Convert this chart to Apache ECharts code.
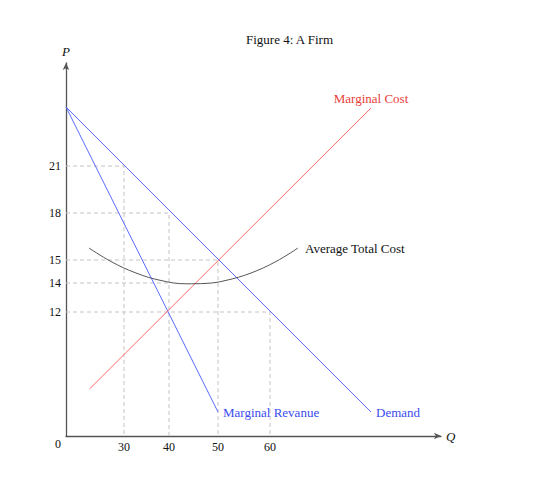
<!DOCTYPE html>
<html>
<head>
<meta charset="utf-8">
<script src="https://cdn.jsdelivr.net/npm/echarts@6/dist/echarts.min.js"></script>
<style>
  html, body { margin: 0; padding: 0; background: #fff; }
  #firm { width: 560px; height: 489px; }
</style>
</head>
<body>
<div id="firm"></div>
<script>
// drawing units: 1 unit = 1 px of the original figure, origin at the axes corner
var qTicks = [58, 103, 152, 204];
var qLabels = ['30', '40', '50', '60'];
var pTicks = [270, 223, 176, 153, 124];
var pLabels = ['21', '18', '15', '14', '12'];

var demand = [[0, 329], [305, 24]];
var marginalRevenue = [[0, 329], [152, 24]];
var marginalCost = [[23.5, 47], [305, 328]];
var averageTotalCost = [[23, 188], [45, 174.5], [70, 163], [95, 155.5], [120, 152.2],
                        [140, 152.6], [160, 155.6], [185, 163], [210, 174.5], [232, 188]];

// dashed guide lines (P level -> curve -> down to Q)
var guide21 = [[0, 270], [58, 270], [58, 0]];
var guide18 = [[0, 223], [103, 223], [103, 0]];
var guide15 = [[0, 176], [152, 176], [152, 0]];
var guide14 = [[0, 153], [103, 153]];
var guide12 = [[0, 124], [204, 124], [204, 0]];

var serif = 'Liberation Serif';
var blueText = '#3a4cf0';

function guide(data) {
    return {
        type: 'line', data: data, symbol: 'none', silent: true,
        color: '#c4c4c4',
        lineStyle: { color: '#c4c4c4', width: 1, type: [4, 3] }
    };
}

function curve(name, data, color, width, smooth, endLabel) {
    return {
        name: name, type: 'line', data: data, symbol: 'none', silent: true,
        smooth: smooth, z: 3, color: color,
        lineStyle: { color: color, width: width },
        endLabel: endLabel
    };
}

var option = {
    animation: false,
    title: {
        text: 'Figure 4: A Firm',
        left: 241, top: 28,
        textStyle: { fontFamily: serif, fontSize: 13, fontWeight: 'normal', color: '#111' }
    },
    grid: { left: 66, top: 63, width: 375, height: 373, containLabel: false, outerBoundsMode: 'none' },
    xAxis: {
        type: 'value', min: 0, max: 375,
        name: 'Q', nameLocation: 'end', nameGap: 5,
        nameTextStyle: { fontFamily: serif, fontStyle: 'italic', fontSize: 13, color: '#111' },
        axisLine: { lineStyle: { color: '#555', width: 1.3 }, symbol: ['none', 'arrow'], symbolSize: [5, 7] },
        axisTick: { show: false },
        splitLine: { show: false },
        axisLabel: {
            customValues: qTicks, margin: 5,
            fontFamily: serif, fontSize: 12, color: '#111',
            formatter: function (v) { return qLabels[qTicks.indexOf(v)]; }
        }
    },
    yAxis: {
        type: 'value', min: 0, max: 373,
        name: 'P', nameLocation: 'end', nameGap: 5,
        nameTextStyle: { fontFamily: serif, fontStyle: 'italic', fontSize: 13, color: '#111', align: 'center' },
        axisLine: { lineStyle: { color: '#555', width: 1.3 }, symbol: ['none', 'arrow'], symbolSize: [5, 7] },
        axisTick: { show: false },
        splitLine: { show: false },
        axisLabel: {
            customValues: pTicks, margin: 5,
            fontFamily: serif, fontSize: 12, color: '#111',
            formatter: function (v) { return pLabels[pTicks.indexOf(v)]; }
        }
    },
    graphic: [{
        type: 'text', left: 55, top: 438,
        style: { text: '0', font: '12px "Liberation Serif"', fill: '#111' }
    }],
    series: [
        guide(guide21), guide(guide18), guide(guide15), guide(guide14), guide(guide12),
        curve('Demand', demand, '#5a6cff', 1, false,
            { show: true, formatter: 'Demand', distance: 5, color: blueText, fontFamily: serif, fontSize: 13 }),
        curve('Marginal Revanue', marginalRevenue, '#5a6cff', 1, false,
            { show: true, formatter: 'Marginal Revanue', distance: 5, color: blueText, fontFamily: serif, fontSize: 13 }),
        curve('Marginal Cost', marginalCost, '#ff6a6a', 1, false,
            { show: true, formatter: 'Marginal Cost', distance: 0, align: 'center', verticalAlign: 'bottom',
              padding: [0, 0, 3, 0], color: '#e8403a', fontFamily: serif, fontSize: 13 }),
        curve('Average Total Cost', averageTotalCost, '#555555', 1, 0.4,
            { show: true, formatter: 'Average Total Cost', distance: 7, color: '#111', fontFamily: serif, fontSize: 13 })
    ]
};

// svg renderer: the thin 45° demand line came out grey on canvas
var chart = echarts.init(document.getElementById('firm'), null, { renderer: 'svg' });
chart.setOption(option);
</script>
</body>
</html>
